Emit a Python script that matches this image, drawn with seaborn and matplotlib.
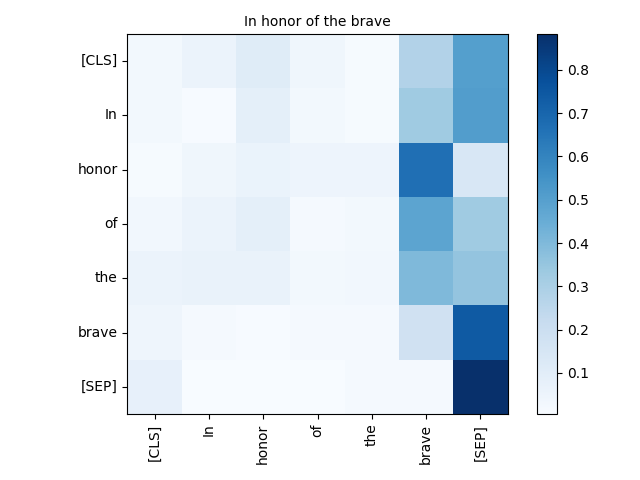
import numpy as np
import pandas as pd
import matplotlib
matplotlib.use("Agg")
import matplotlib.pyplot as plt
import seaborn as sns

tokens = ["[CLS]", "In", "honor", "of", "the", "brave", "[SEP]"]

# attention weights, one row per query token
row_cls = [0.027, 0.057, 0.110, 0.040, 0.014, 0.280, 0.505]
row_in = [0.027, 0.010, 0.088, 0.027, 0.014, 0.330, 0.510]
row_honor = [0.014, 0.040, 0.062, 0.050, 0.050, 0.670, 0.145]
row_of = [0.035, 0.057, 0.088, 0.020, 0.027, 0.485, 0.330]
row_the = [0.057, 0.070, 0.070, 0.027, 0.035, 0.400, 0.355]
row_brave = [0.045, 0.020, 0.010, 0.022, 0.020, 0.180, 0.740]
row_sep = [0.080, 0.005, 0.007, 0.007, 0.020, 0.022, 0.883]

att = pd.DataFrame([row_cls, row_in, row_honor, row_of, row_the, row_brave, row_sep],
                   index=tokens, columns=tokens)

fig = plt.figure(figsize=(6.4, 4.8), dpi=100)
ax = fig.add_axes([127 / 640, 66 / 480, 381 / 640, 380 / 480])
cax = fig.add_axes([537 / 640, 66 / 480, 20 / 640, 380 / 480])
sns.heatmap(att, cmap="Blues", square=True, ax=ax, cbar_ax=cax, linewidths=0)

# bring back the frame seaborn strips off
for sp in ax.spines.values():
    sp.set_visible(True)
    sp.set_linewidth(0.8)
cbar = ax.collections[0].colorbar
cbar.outline.set_visible(True)
cbar.outline.set_linewidth(0.8)
cbar.set_ticks([0.1, 0.2, 0.3, 0.4, 0.5, 0.6, 0.7, 0.8])

ax.set_xticklabels(tokens, rotation=90)
ax.set_yticklabels(tokens, rotation=0)
ax.tick_params(length=3.5, width=0.8)
ax.set_title("In honor of the brave", fontsize=10)

plt.savefig("out.png", dpi=100)
